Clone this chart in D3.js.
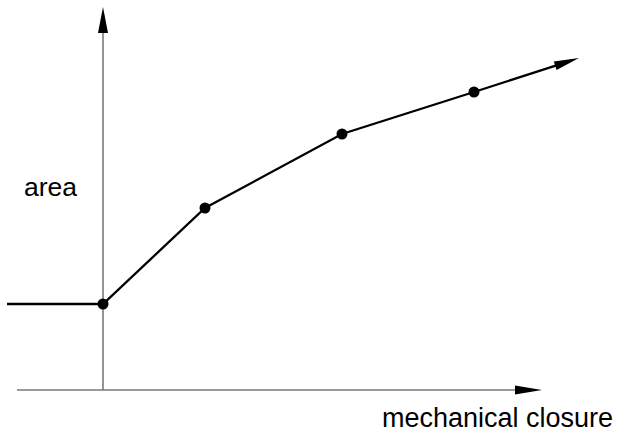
<!DOCTYPE html>
<html>
<head>
<meta charset="utf-8">
<script src="https://cdn.jsdelivr.net/npm/d3@7"></script>
<style>
  body { margin: 0; background: #fff; }
  text { font-family: "Liberation Sans", Arial, sans-serif; }
</style>
</head>
<body>
<div id="chart"></div>
<script>
// area vs mechanical closure sketch
var width = 621, height = 440;

// data (arbitrary units)
var closure = [-0.96, 0, 1.02, 2.39, 3.71, 4.76];
var area    = [0.86, 0.86, 1.82, 2.56, 2.98, 3.32];
var knots   = [1, 2, 3, 4];            // indices that get a dot
var axisX   = [-0.86, 4.39];           // horizontal axis extent
var axisY   = [0, 3.83];               // vertical axis extent
var labels  = ["area", "mechanical closure"];

var x = d3.scaleLinear().domain([0, 5]).range([103, 603]);
var y = d3.scaleLinear().domain([0, 4]).range([390, -10]);

var svg = d3.select("#chart").append("svg")
    .attr("width", width).attr("height", height);

// draws an arrowhead with its tip at (x2,y2) pointing away from (x1,y1)
function arrowHead(g, x1, y1, x2, y2, len, half, fill) {
  var a = Math.atan2(y2 - y1, x2 - x1);
  var pts = [[0, 0], [-len, -half], [-len, half]].map(function(p) {
    return [x2 + p[0] * Math.cos(a) - p[1] * Math.sin(a),
            y2 + p[0] * Math.sin(a) + p[1] * Math.cos(a)];
  });
  g.append("polygon").attr("points", pts.join(" ")).attr("fill", fill);
}

// axes
var axes = svg.append("g");
axes.append("line")
    .attr("x1", x(axisX[0])).attr("x2", x(axisX[1]) - 20)
    .attr("y1", y(0)).attr("y2", y(0))
    .attr("stroke", "#7a7a7a").attr("stroke-width", 1.6);
arrowHead(axes, x(axisX[0]), y(0), x(axisX[1]), y(0), 27, 4.5, "#000");

axes.append("line")
    .attr("x1", x(0)).attr("x2", x(0))
    .attr("y1", y(axisY[0])).attr("y2", y(axisY[1]) + 20)
    .attr("stroke", "#7a7a7a").attr("stroke-width", 1.6);
arrowHead(axes, x(0), y(0), x(0), y(axisY[1]), 26, 5, "#000");

// curve
var pts = closure.map(function(c, i) { return [x(c), y(area[i])]; });
var n = pts.length;
var last = pts[n - 1], prev = pts[n - 2];
var a = Math.atan2(last[1] - prev[1], last[0] - prev[0]);
var linePts = pts.slice(0, n - 1).concat([[last[0] - 18 * Math.cos(a), last[1] - 18 * Math.sin(a)]]);

svg.append("path")
    .attr("d", d3.line()(linePts))
    .attr("fill", "none").attr("stroke", "#000").attr("stroke-width", 2.3);
arrowHead(svg, prev[0], prev[1], last[0], last[1], 25, 4.5, "#000");

svg.selectAll(".dot").data(knots).enter().append("circle")
    .attr("class", "dot")
    .attr("cx", function(i) { return x(closure[i]); })
    .attr("cy", function(i) { return y(area[i]); })
    .attr("r", 5.5).attr("fill", "#000");

// labels
svg.append("text").attr("x", 24).attr("y", 196)
    .attr("font-size", 26.5).attr("fill", "#000").text(labels[0]);
svg.append("text").attr("x", 613).attr("y", 427)
    .attr("text-anchor", "end")
    .attr("font-size", 27).attr("fill", "#000").text(labels[1]);
</script>
</body>
</html>
